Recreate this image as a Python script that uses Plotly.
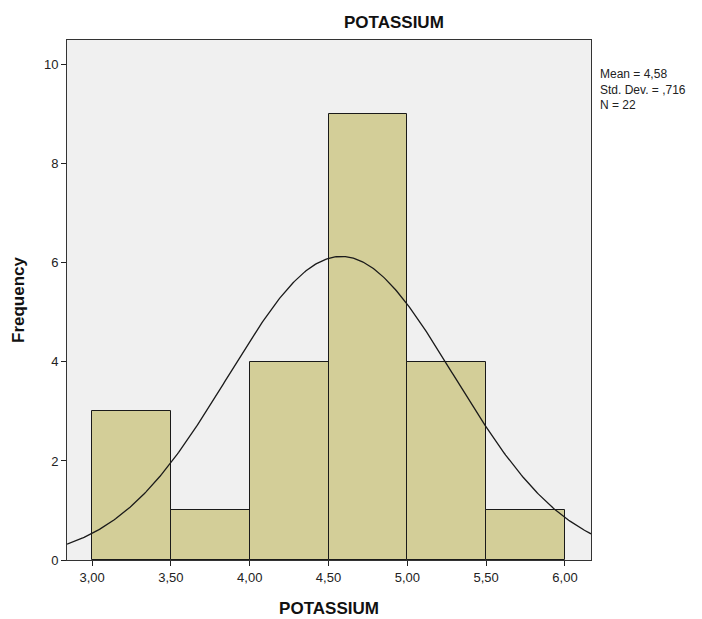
import numpy as np
import plotly.graph_objects as go

# Histogram bins (left edges) and counts
bin_left = [3.00, 3.50, 4.00, 4.50, 5.00, 5.50]
counts = [3, 1, 4, 9, 4, 1]
bin_width = 0.5

# Summary statistics shown beside the plot
mean_val = 4.58
std_val = 0.716
n_val = 22

x_ticks = [3.0, 3.5, 4.0, 4.5, 5.0, 5.5, 6.0]
x_tick_text = ["3,00", "3,50", "4,00", "4,50", "5,00", "5,50", "6,00"]
y_ticks = [0, 2, 4, 6, 8, 10]

x_range = [2.841, 6.165]
y_range = [0, 10.5]

centers = [b + bin_width / 2 for b in bin_left]

# Normal curve scaled to histogram frequency
xs = np.linspace(x_range[0], x_range[1], 400)
ys = n_val * bin_width * np.exp(-0.5 * ((xs - mean_val) / std_val) ** 2) / (std_val * np.sqrt(2 * np.pi))

fig = go.Figure()
fig.add_trace(go.Bar(
    x=centers, y=counts, width=bin_width,
    marker=dict(color="#d3ce98", line=dict(color="#1a1a1a", width=1)),
    showlegend=False, hoverinfo="skip",
))
fig.add_trace(go.Scatter(
    x=xs, y=ys, mode="lines",
    line=dict(color="#1a1a1a", width=1.3),
    showlegend=False, hoverinfo="skip",
))

font_family = "Liberation Sans, Arial, sans-serif"

fig.update_layout(
    width=702, height=619,
    margin=dict(l=67, r=111, t=40, b=59),
    paper_bgcolor="white",
    plot_bgcolor="#f0f0f0",
    bargap=0,
    font=dict(family=font_family, size=12, color="#222"),
    xaxis=dict(
        range=x_range, tickvals=x_ticks, ticktext=x_tick_text,
        ticks="outside", ticklen=5, tickcolor="#222", tickwidth=1,
        showline=True, linecolor="#333", linewidth=1, mirror=True,
        showgrid=False, zeroline=False, automargin=False,
        title=dict(text="<b>POTASSIUM</b>", font=dict(size=17, color="#111"), standoff=18),
        tickfont=dict(size=13),
    ),
    yaxis=dict(
        range=y_range, tickvals=y_ticks,
        ticks="outside", ticklen=5, tickcolor="#222", tickwidth=1,
        showline=True, linecolor="#333", linewidth=1, mirror=True,
        showgrid=False, zeroline=False, automargin=False,
        title=dict(text="<b>Frequency</b>", font=dict(size=17, color="#111"), standoff=14),
        tickfont=dict(size=13),
    ),
    annotations=[
        dict(
            text="<b>POTASSIUM</b>", xref="paper", yref="paper",
            x=0.624, y=1.0, yshift=18, xanchor="center", yanchor="middle",
            showarrow=False, font=dict(size=17, color="#111"),
        ),
        dict(
            text=f"Mean = {mean_val:.2f}".replace(".", ",")
            + "<br>Std. Dev. = ," + f"{std_val:.3f}".split(".")[1]
            + f"<br>N = {n_val}",
            xref="paper", yref="paper", x=1.0, y=0.952, xshift=7,
            xanchor="left", yanchor="top", align="left",
            showarrow=False, font=dict(size=12, color="#222"),
        ),
    ],
)

fig.write_html("out.html")
